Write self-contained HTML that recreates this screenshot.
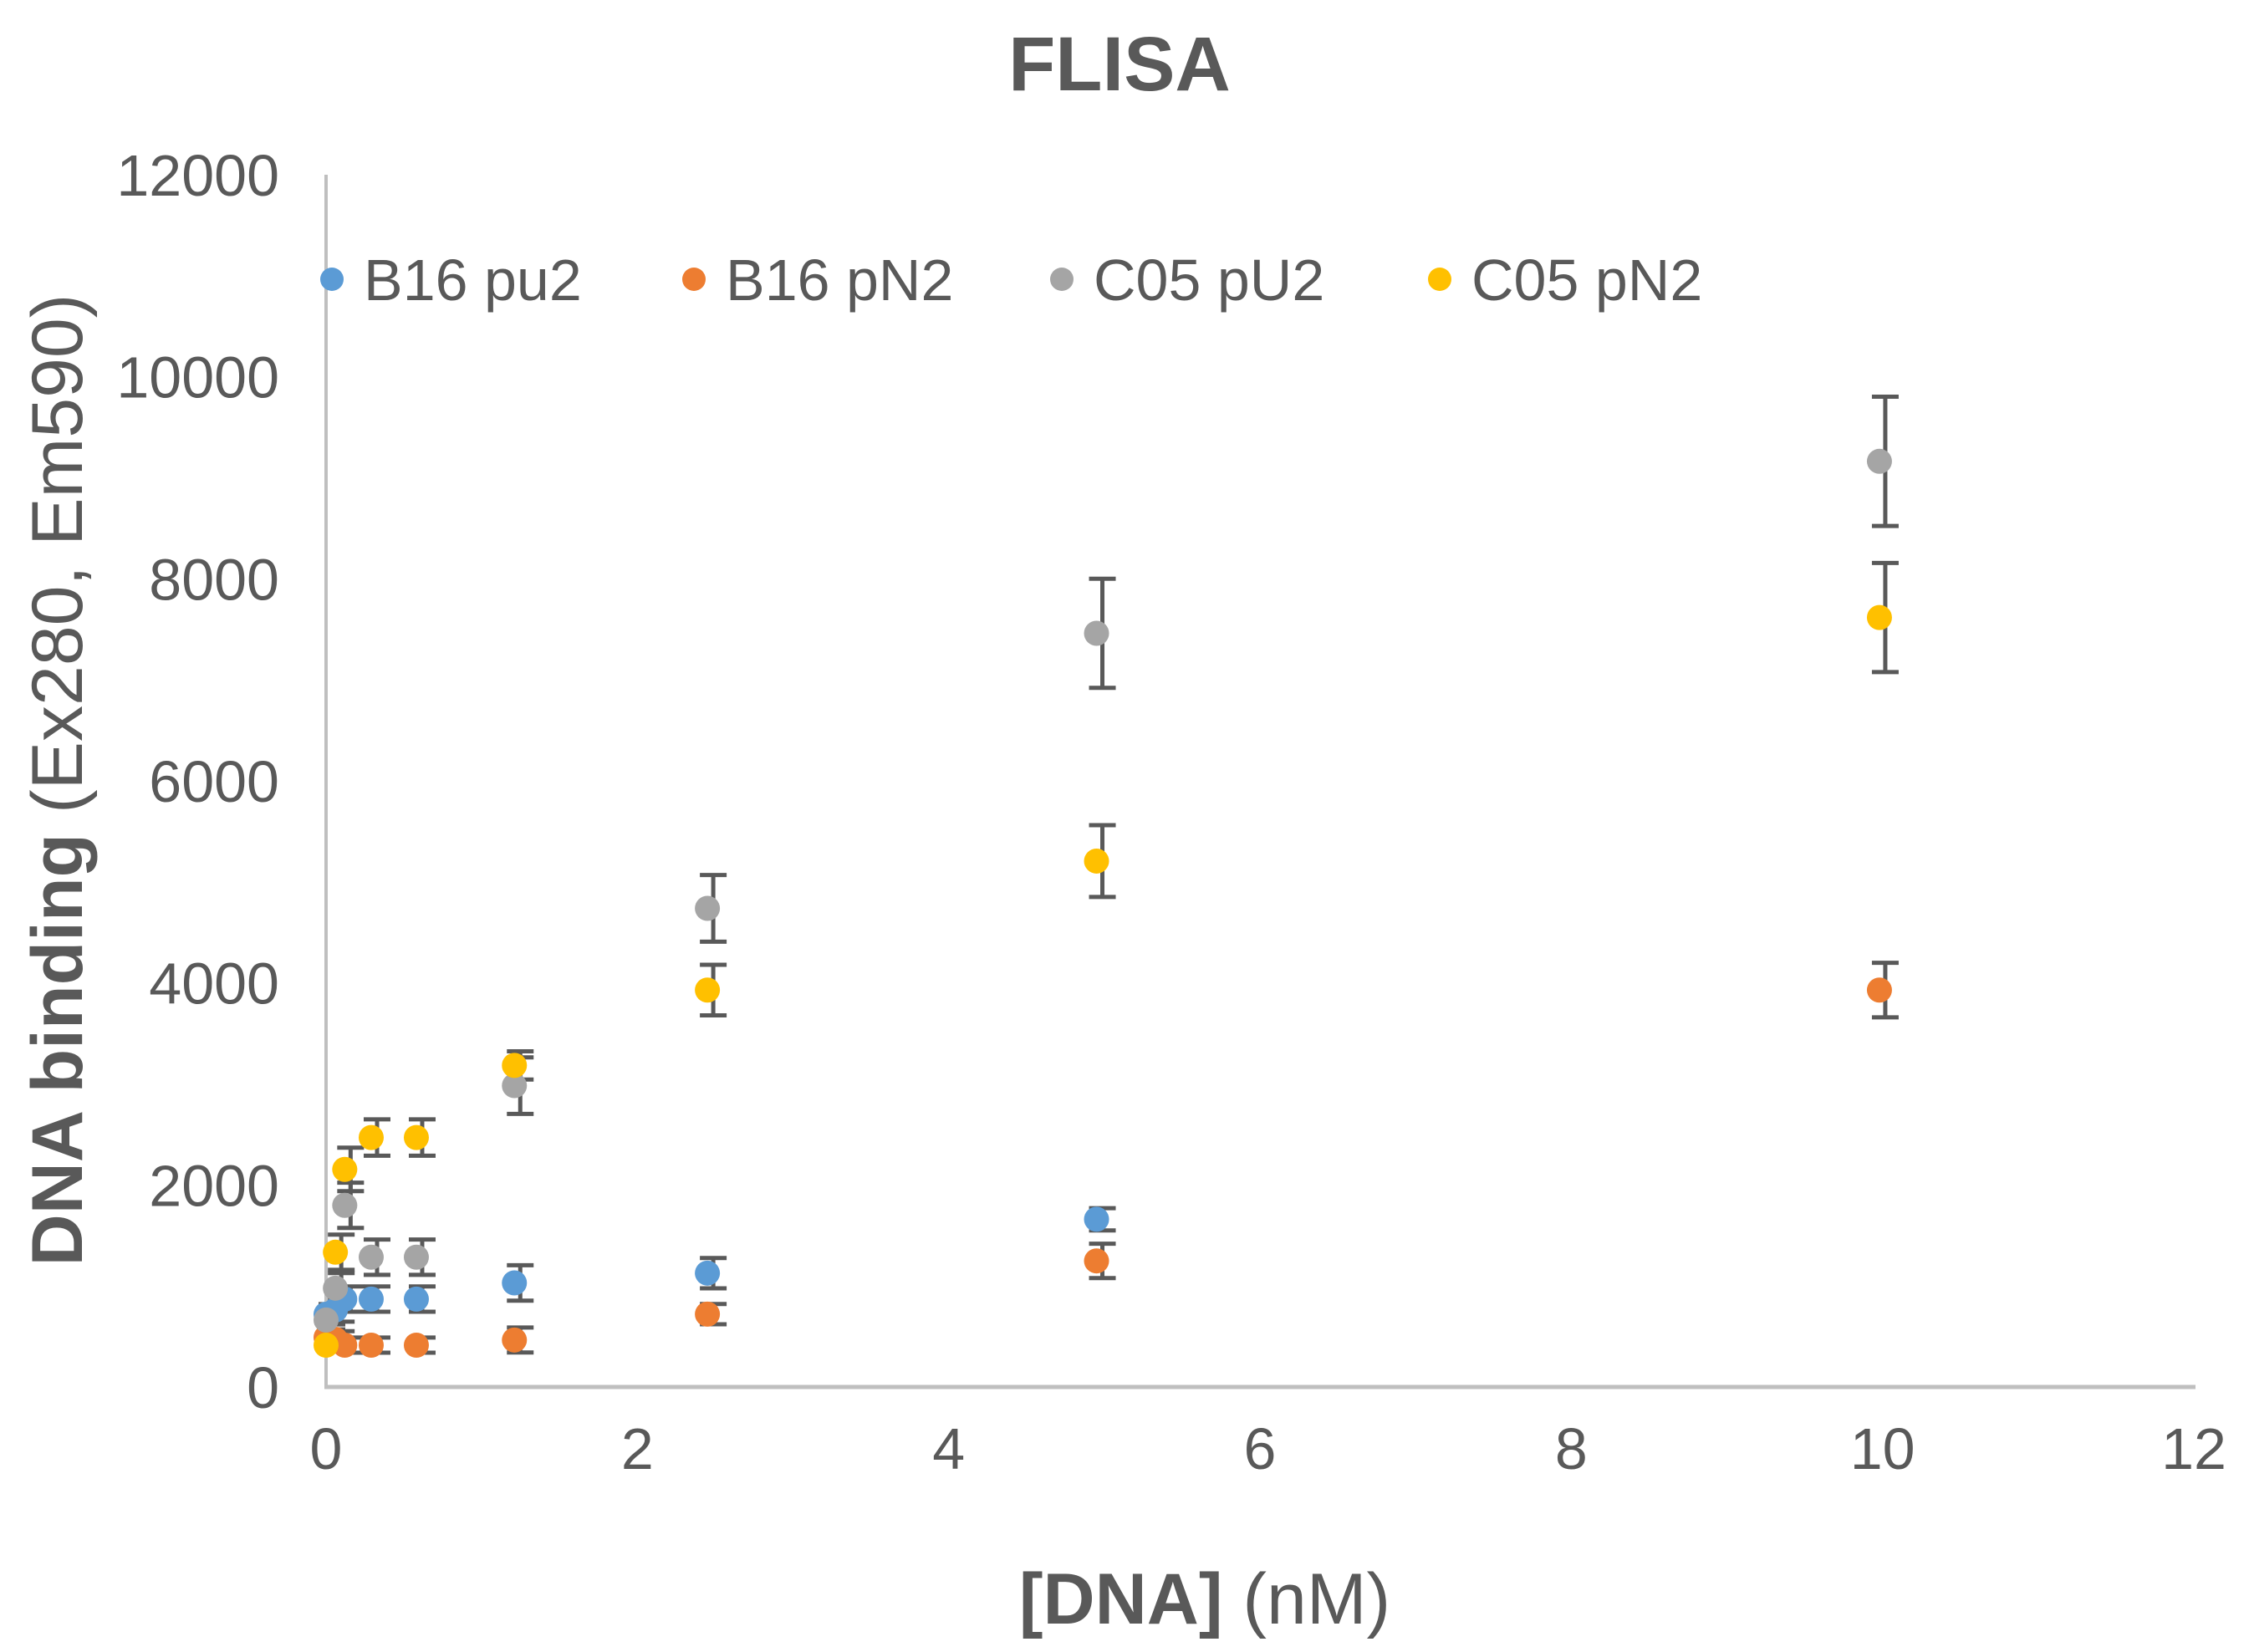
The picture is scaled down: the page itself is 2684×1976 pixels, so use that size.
<!DOCTYPE html>
<html><head><meta charset="utf-8"><style>
html,body{margin:0;padding:0;background:#fff;}
svg text{font-family:"Liberation Sans",Arial,sans-serif;fill:#595959;}
</style></head><body>
<svg id="chart" width="2684" height="1971" viewBox="0 0 2684 1971" xmlns="http://www.w3.org/2000/svg">
<text x="1339" y="108" font-size="92" font-weight="bold" text-anchor="middle">FLISA</text>
<g id="yticks"></g>
<g id="xticks"></g>
<line x1="390" y1="209" x2="390" y2="1659" stroke="#bfbfbf" stroke-width="4"/>
<line x1="388" y1="1659" x2="2626" y2="1659" stroke="#bfbfbf" stroke-width="5"/>
<g id="marks"></g>
<text x="1441" y="1942" font-size="86" text-anchor="middle"><tspan font-weight="bold">[DNA]</tspan> (nM)</text>
<text transform="translate(98,933) rotate(-90)" font-size="86" text-anchor="middle"><tspan font-weight="bold">DNA binding</tspan> (Ex280, Em590)</text>
<g id="legend"></g>
</svg>
<script>
const xValues = [0, 0.06, 0.12, 0.29, 0.58, 1.21, 2.45, 4.95, 9.98];
const seriesNames = ["B16 pu2", "B16 pN2", "C05 pU2", "C05 pN2"];
const seriesColors = ["#5b9bd5", "#ed7d31", "#a5a5a5", "#ffc000"];
const b16pu2 = [720, 762, 870, 870, 870, 1030, 1127, 1660, null];
const b16pu2Err = [100, 115, 125, 125, 125, 175, 150, 110, null];
const b16pn2 = [490, 472, 414, 414, 414, 465, 721, 1248, 3929];
const b16pn2Err = [80, 80, 75, 75, 75, 124, 100, 170, 270];
const c05pu2 = [663, 978, 1798, 1285, 1285, 2983, 4738, 7461, 9163];
const c05pu2Err = [100, 150, 224, 175, 175, 280, 330, 540, 640];
const c05pn2 = [414, 1334, 2154, 2469, 2469, 3183, 3929, 5206, 7617];
const c05pn2Err = [60, 174, 215, 180, 180, 140, 250, 355, 540];
const yTicks = [0, 2000, 4000, 6000, 8000, 10000, 12000];
const xTicks = [0, 2, 4, 6, 8, 10, 12];

const NS = "http://www.w3.org/2000/svg";
const X0 = 390, X1 = 2624, Y0 = 1659, Y1 = 209;
function xs(v){ return X0 + v / 12 * (X1 - X0); }
function ys(v){ return Y0 - v / 12000 * (Y0 - Y1); }
function mk(tag, attrs, parent){
  const e = document.createElementNS(NS, tag);
  for (const k in attrs) e.setAttribute(k, attrs[k]);
  parent.appendChild(e);
  return e;
}
const yt = document.getElementById("yticks");
yTicks.forEach(v => {
  const t = mk("text", {x: 334, y: ys(v) + 25, "font-size": 70, "text-anchor": "end"}, yt);
  
  
  t.textContent = v;
});
const xt = document.getElementById("xticks");
xTicks.forEach(v => {
  const t = mk("text", {x: xs(v), y: 1757, "font-size": 70, "text-anchor": "middle"}, xt);
  
  
  t.textContent = v;
});
const marks = document.getElementById("marks");
const allSeries = [[b16pu2, b16pu2Err], [b16pn2, b16pn2Err], [c05pu2, c05pu2Err], [c05pn2, c05pn2Err]];
const errG = mk("g", {}, marks);


const ptG = mk("g", {}, marks);


allSeries.forEach((s, si) => {
  const vals = s[0], errs = s[1];
  vals.forEach((v, i) => {
    if (v === null) return;
    const cx = xs(xValues[i]), e = errs[i] || 0;
    const bx = cx + 7;
    const top = ys(v + e), bot = ys(v - e);
    const l = mk("path", {d: `M${bx},${top}V${bot}M${bx-16},${top}H${bx+16}M${bx-16},${bot}H${bx+16}`, stroke: "#595959", "stroke-width": 5, fill: "none"}, errG);
    
    
  });
});
allSeries.forEach((s, si) => {
  s[0].forEach((v, i) => {
    if (v === null) return;
    const c = mk("circle", {cx: xs(xValues[i]), cy: ys(v), r: 15, fill: seriesColors[si]}, ptG);
    
    
  });
});
const lg = document.getElementById("legend");
const legX = [397, 830, 1270, 1722];
seriesNames.forEach((n, i) => {
  const g = mk("g", {}, lg);
  
  
  mk("circle", {cx: legX[i], cy: 334, r: 14, fill: seriesColors[i]}, g);
  const t = mk("text", {x: legX[i] + 38, y: 359, "font-size": 70}, g);
  t.textContent = n;
});
</script>
</body></html>
